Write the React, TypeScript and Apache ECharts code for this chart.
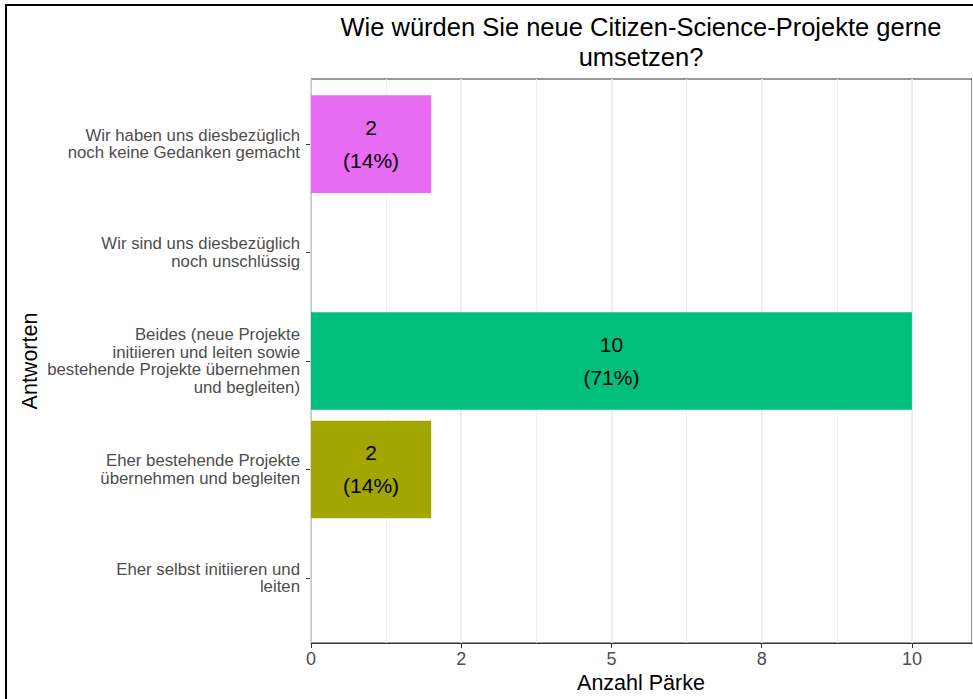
import React, { useEffect, useRef } from "react";
import * as echarts from "echarts";

// Categories, bottom to top (ggplot factor order)
const categories: string[] = [
  "Eher selbst initiieren und\nleiten",
  "Eher bestehende Projekte\nübernehmen und begleiten",
  "Beides (neue Projekte\ninitiieren und leiten sowie\nbestehende Projekte übernehmen\nund begleiten)",
  "Wir sind uns diesbezüglich\nnoch unschlüssig",
  "Wir haben uns diesbezüglich\nnoch keine Gedanken gemacht",
];
const counts: number[] = [0, 2, 10, 0, 2];
const percents: number[] = [0, 14, 71, 0, 14];
const barColors: string[] = ["#F8766D", "#A3A500", "#00BF7D", "#00B0F6", "#E76BF3"];

const xTickValues: number[] = [0, 2.5, 5, 7.5, 10];
const xTickLabels: string[] = ["0", "2", "5", "8", "10"];

const titleText = "Wie würden Sie neue Citizen-Science-Projekte gerne\numsetzen?";
const xTitle = "Anzahl Pärke";
const yTitle = "Antworten";

const FONT = "'Liberation Sans', Arial, Helvetica, sans-serif";

export default function App() {
  const ref = useRef<HTMLDivElement>(null);
  useEffect(() => {
    if (!ref.current) return;
    const chart = echarts.init(ref.current, undefined, { renderer: "svg" });
    const yPositions = categories.map((_, i) => i + 1);
    const data = counts.map((v, i) => [i + 1, v, i]);
    chart.setOption({
      animation: false,
      backgroundColor: "#ffffff",
      textStyle: { fontFamily: FONT },
      grid: { left: 311, right: 1, top: 79, bottom: 56, show: true, borderColor: "#333333", borderWidth: 1, backgroundColor: "#ffffff", containLabel: false },
      xAxis: [
        {
          type: "value",
          min: 0,
          max: 11,
          interval: 2.5,
          axisLine: { show: true, lineStyle: { color: "#333333", width: 1 } },
          axisTick: { show: true, length: 5, lineStyle: { color: "#333333" }, customValues: xTickValues },
          axisLabel: {
            customValues: xTickValues,
            color: "#4D4D4D",
            fontSize: 18,
            fontFamily: FONT,
            margin: 7,
            formatter: (v: number) => {
              const idx = xTickValues.indexOf(v);
              return idx >= 0 ? xTickLabels[idx] : "";
            },
          },
          splitLine: { show: true, lineStyle: { color: "#EBEBEB", width: 1.6 } },
          z: 3,
        },
        {
          type: "value",
          min: 0,
          max: 11,
          interval: 1.25,
          position: "bottom",
          axisLine: { show: false },
          axisTick: { show: false },
          axisLabel: { show: false },
          splitLine: { show: true, lineStyle: { color: "#F0F0F0", width: 1 } },
        },
      ],
      yAxis: {
        type: "value",
        min: 0.4,
        max: 5.6,
        axisLine: { show: true, lineStyle: { color: "#333333", width: 1 } },
        axisTick: { show: true, length: 5, lineStyle: { color: "#333333" }, customValues: yPositions },
        axisLabel: {
          customValues: yPositions,
          color: "#4D4D4D",
          fontSize: 16.8,
          lineHeight: 17.7,
          fontFamily: FONT,
          align: "right",
          margin: 11,
          formatter: (v: number) => categories[Math.round(v) - 1] ?? "",
        },
        splitLine: { show: false },
      },
      series: [
        {
          type: "custom",
          xAxisIndex: 0,
          yAxisIndex: 0,
          encode: { x: 1, y: 0 },
          data,
          z: 4,
          renderItem: (params: any, api: any) => {
            const yi = api.value(0);
            const v = api.value(1);
            const idx = api.value(2);
            if (!v) return null;
            const start = api.coord([0, yi]);
            const end = api.coord([v, yi]);
            const h = api.size([0, 0.9])[1];
            return {
              type: "rect",
              shape: { x: start[0], y: start[1] - h / 2, width: end[0] - start[0], height: h },
              style: { fill: barColors[idx] },
              textContent: {
                style: {
                  text: `${v}\n(${percents[idx]}%)`,
                  fontSize: 21,
                  lineHeight: 33,
                  fontFamily: FONT,
                  fill: "#000000",
                  align: "center",
                  verticalAlign: "middle",
                },
              },
              textConfig: { position: "inside" },
            };
          },
        },
      ],
      graphic: [
        {
          type: "rect",
          shape: { x: 6, y: 5, width: 1100, height: 1100 },
          style: { fill: "none", stroke: "#000000", lineWidth: 2 },
          silent: true,
          z: 100,
        },
        {
          type: "text",
          x: 641,
          y: 12,
          style: {
            text: titleText,
            font: `25.5px ${FONT}`,
            lineHeight: 30,
            fill: "#000000",
            align: "center",
            verticalAlign: "top",
          },
        },
        {
          type: "text",
          x: 641,
          y: 683,
          style: {
            text: xTitle,
            font: `21.5px ${FONT}`,
            fill: "#000000",
            align: "center",
            verticalAlign: "middle",
          },
        },
        {
          type: "text",
          x: 30,
          y: 361,
          rotation: Math.PI / 2,
          style: {
            text: yTitle,
            font: `21.5px ${FONT}`,
            fill: "#000000",
            align: "center",
            verticalAlign: "middle",
          },
        },
      ],
    });
    return () => chart.dispose();
  }, []);
  return (
    <div
      ref={ref}
      style={{ position: "fixed", left: 0, top: 0, width: 973, height: 699, background: "#ffffff" }}
    />
  );
}
